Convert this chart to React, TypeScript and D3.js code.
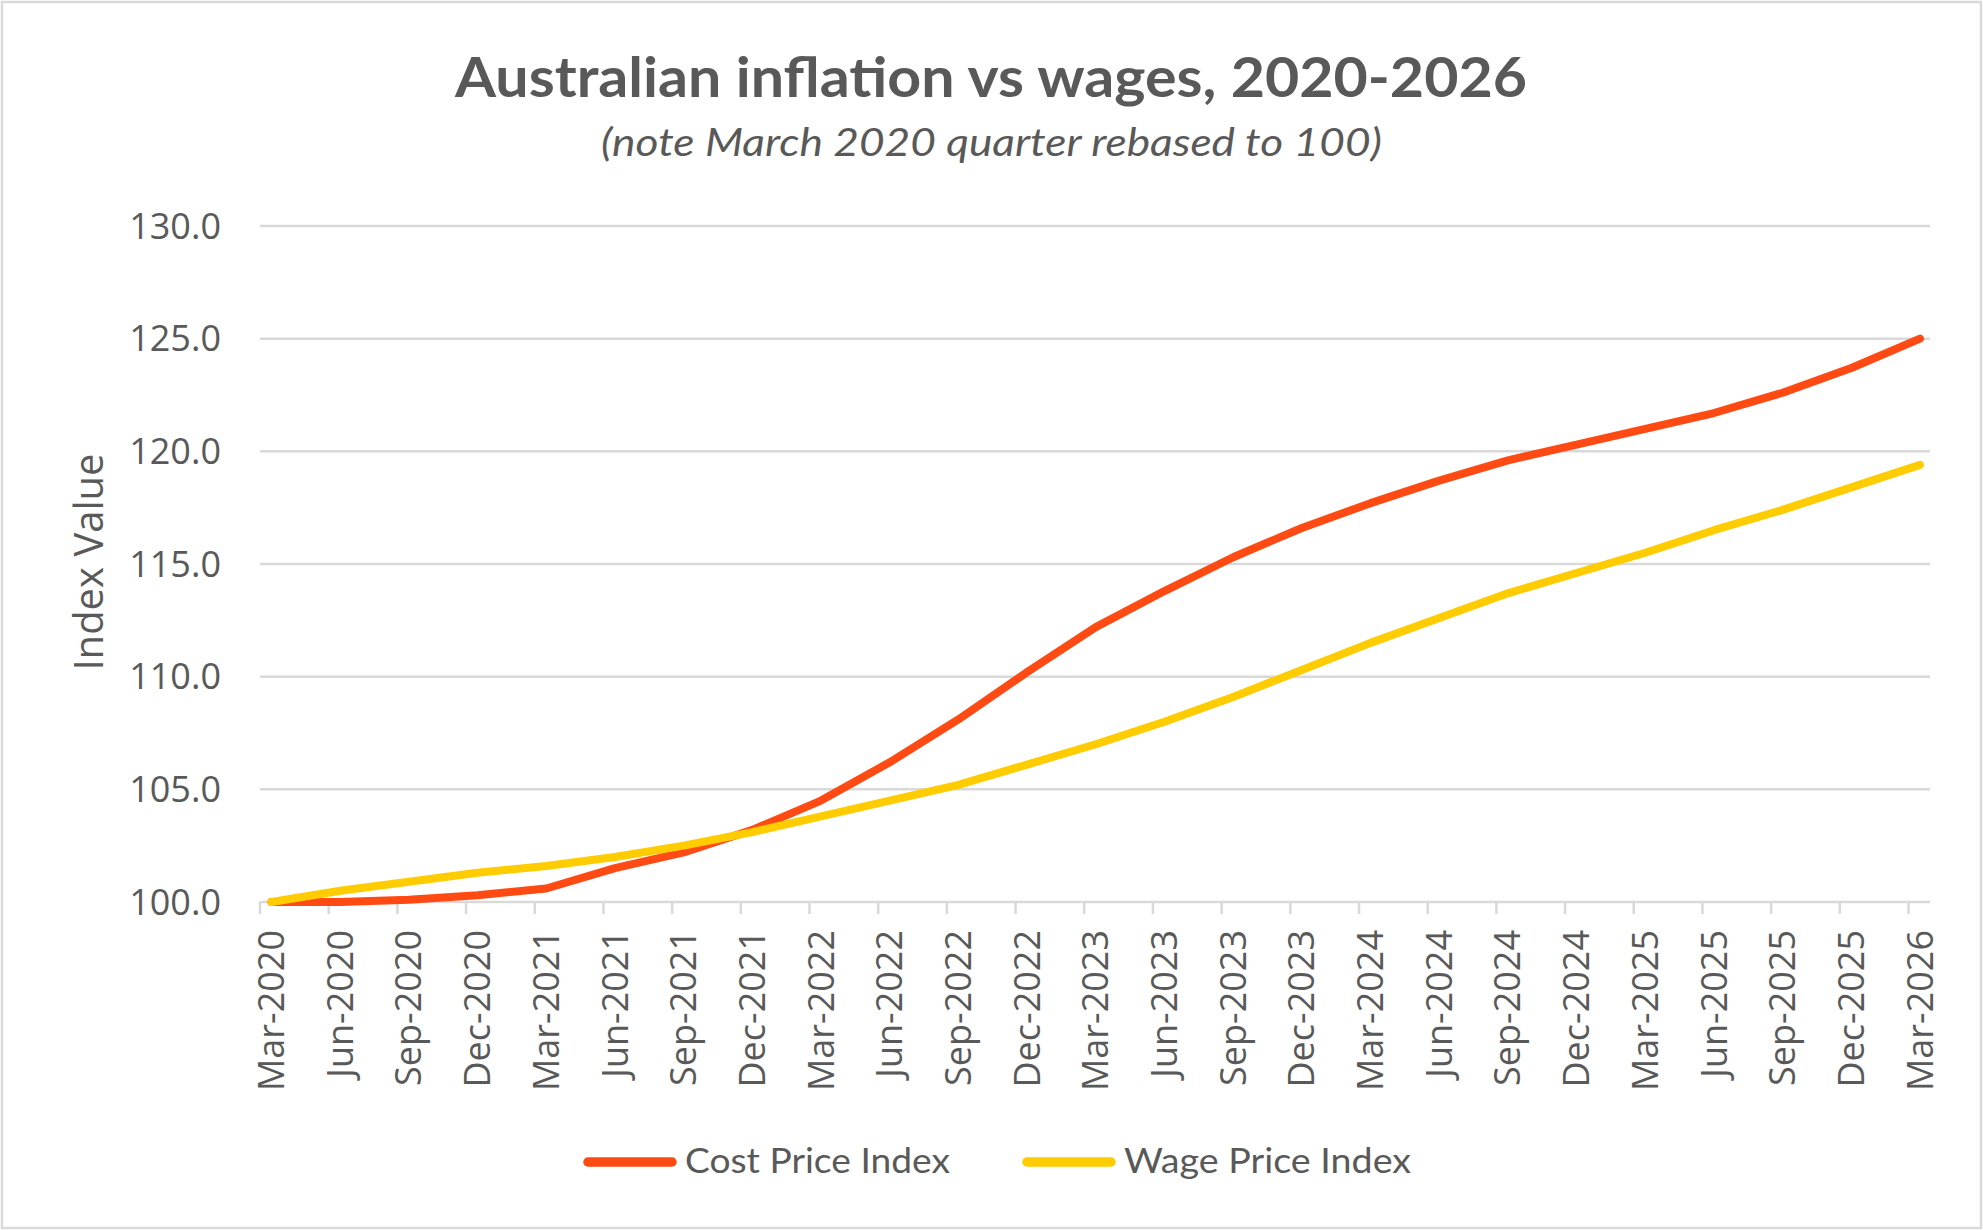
import React, { useEffect, useRef } from 'react'
import * as d3 from 'd3'

// Quarter labels on the category axis
const quarters = [
  'Mar-2020', 'Jun-2020', 'Sep-2020', 'Dec-2020',
  'Mar-2021', 'Jun-2021', 'Sep-2021', 'Dec-2021',
  'Mar-2022', 'Jun-2022', 'Sep-2022', 'Dec-2022',
  'Mar-2023', 'Jun-2023', 'Sep-2023', 'Dec-2023',
  'Mar-2024', 'Jun-2024', 'Sep-2024', 'Dec-2024',
  'Mar-2025', 'Jun-2025', 'Sep-2025', 'Dec-2025',
  'Mar-2026',
]

// Index values, March 2020 rebased to 100
const costPriceIndex = [
  100.0, 100.0, 100.1, 100.3, 100.6, 101.5, 102.2, 103.2,
  104.5, 106.2, 108.1, 110.2, 112.2, 113.8, 115.3, 116.6,
  117.7, 118.7, 119.6, 120.3, 121.0, 121.7, 122.6, 123.7,
  125.0,
]

const wagePriceIndex = [
  100.0, 100.5, 100.9, 101.3, 101.6, 102.0, 102.5, 103.1,
  103.8, 104.5, 105.2, 106.1, 107.0, 108.0, 109.1, 110.3,
  111.5, 112.6, 113.7, 114.6, 115.5, 116.5, 117.4, 118.4,
  119.4,
]

const yTicks = [100, 105, 110, 115, 120, 125, 130]

const seriesNames = ['Cost Price Index', 'Wage Price Index']
const seriesColors = ['#FF4A14', '#FFCC00']

const WIDTH = 1983
const HEIGHT = 1230
const TEXT = '#595959'
const GRID = '#D9D9D9'
const AXIS_FONT = '"Open Sans", "Noto Sans", sans-serif'
const TITLE_FONT = 'Lato, "Noto Sans", sans-serif'

export default function App() {
  const svgRef = useRef<SVGSVGElement>(null)

  useEffect(() => {
    if (!svgRef.current) return
    const root = d3.select(svgRef.current)
    root.selectAll('*').remove()

    const plot = { left: 260, right: 1930, top: 226, bottom: 902 }

    const x = d3.scalePoint<string>()
      .domain(quarters)
      .range([271.5, 1920])

    const y = d3.scaleLinear()
      .domain([100, 130])
      .range([plot.bottom, plot.top])

    // chart border
    root.append('rect')
      .attr('x', 2).attr('y', 2)
      .attr('width', WIDTH - 4).attr('height', HEIGHT - 4)
      .attr('fill', '#fff')
      .attr('stroke', GRID)
      .attr('stroke-width', 2.5)

    // title
    root.append('text')
      .attr('x', 455).attr('y', 97)
      .attr('textLength', 1072)
      .attr('lengthAdjust', 'spacingAndGlyphs')
      .attr('fill', TEXT)
      .style('font-family', TITLE_FONT)
      .style('font-weight', 'bold')
      .style('font-size', '56px')
      .text('Australian inflation vs wages, 2020-2026')

    root.append('text')
      .attr('x', 601).attr('y', 156)
      .attr('textLength', 781)
      .attr('lengthAdjust', 'spacingAndGlyphs')
      .attr('fill', TEXT)
      .style('font-family', TITLE_FONT)
      .style('font-style', 'italic')
      .style('font-size', '39px')
      .text('(note March 2020 quarter rebased to 100)')

    // horizontal gridlines
    root.append('g')
      .selectAll('line')
      .data(yTicks)
      .enter().append('line')
      .attr('x1', plot.left).attr('x2', plot.right)
      .attr('y1', d => y(d)).attr('y2', d => y(d))
      .attr('stroke', GRID)
      .attr('stroke-width', 2.5)

    // y tick labels
    root.append('g')
      .selectAll('text')
      .data(yTicks)
      .enter().append('text')
      .attr('x', 221)
      .attr('y', d => y(d))
      .attr('dy', '0.35em')
      .attr('text-anchor', 'end')
      .attr('fill', TEXT)
      .style('font-family', AXIS_FONT)
      .style('font-size', '36px')
      .text(d => d3.format('.1f')(d))

    // y axis title
    root.append('text')
      .attr('transform', 'translate(89,562) rotate(-90)')
      .attr('dy', '0.35em')
      .attr('text-anchor', 'middle')
      .attr('fill', TEXT)
      .style('font-family', AXIS_FONT)
      .style('font-size', '40px')
      .text('Index Value')

    // category tick marks (Excel draws them a little left of the points)
    root.append('g')
      .selectAll('line')
      .data(quarters)
      .enter().append('line')
      .attr('x1', d => (x(d) || 0) - 11.5)
      .attr('x2', d => (x(d) || 0) - 11.5)
      .attr('y1', plot.bottom)
      .attr('y2', plot.bottom + 12)
      .attr('stroke', GRID)
      .attr('stroke-width', 2.5)

    // category labels, rotated
    root.append('g')
      .selectAll('text')
      .data(quarters)
      .enter().append('text')
      .attr('transform', d => `translate(${x(d) || 0},930) rotate(-90)`)
      .attr('dy', '0.35em')
      .attr('text-anchor', 'end')
      .attr('fill', TEXT)
      .style('font-family', AXIS_FONT)
      .style('font-size', '36px')
      .text(d => d)

    // lines
    const line = d3.line<number>()
      .x((_, i) => x(quarters[i]) || 0)
      .y(d => y(d))

    ;[costPriceIndex, wagePriceIndex].forEach((values, i) => {
      root.append('path')
        .datum(values)
        .attr('fill', 'none')
        .attr('stroke', seriesColors[i])
        .attr('stroke-width', 8)
        .attr('stroke-linejoin', 'round')
        .attr('stroke-linecap', 'round')
        .attr('d', line)
    })

    // legend
    const legendItems = [
      { lineX: 583, textX: 685, width: 265 },
      { lineX: 1022, textX: 1124, width: 287 },
    ]
    legendItems.forEach((item, i) => {
      root.append('line')
        .attr('x1', item.lineX + 5).attr('x2', item.lineX + 89)
        .attr('y1', 1162).attr('y2', 1162)
        .attr('stroke', seriesColors[i])
        .attr('stroke-width', 9.5)
        .attr('stroke-linecap', 'round')
      root.append('text')
        .attr('x', item.textX).attr('y', 1173)
        .attr('textLength', item.width)
        .attr('lengthAdjust', 'spacingAndGlyphs')
        .attr('fill', TEXT)
        .style('font-family', TITLE_FONT)
        .style('font-size', '35px')
        .text(seriesNames[i])
    })
  }, [])

  return (
    <div style={{ position: 'absolute', left: 0, top: 0 }}>
      <svg ref={svgRef} width={WIDTH} height={HEIGHT} style={{ display: 'block' }} />
    </div>
  )
}
